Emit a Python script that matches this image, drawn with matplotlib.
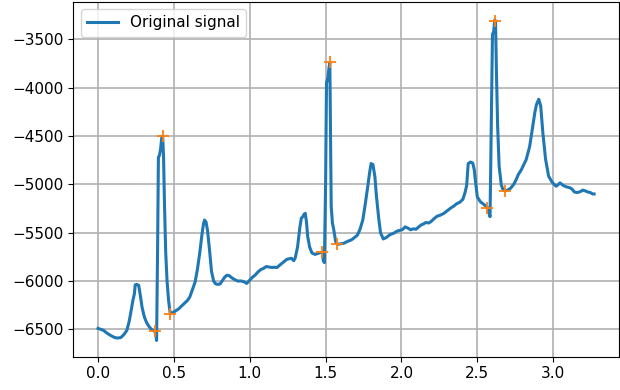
import numpy as np
import matplotlib
matplotlib.use("Agg")
import matplotlib.pyplot as plt

# signal trace (time, amplitude)
t = [0.000, 0.035, 0.060, 0.085, 0.110, 0.130, 0.150, 0.170, 0.190, 0.205,
     0.215, 0.230, 0.240, 0.245, 0.255, 0.268, 0.280, 0.290, 0.305, 0.320,
     0.338, 0.355, 0.370, 0.380, 0.386, 0.393, 0.398, 0.405, 0.412, 0.420,
     0.426, 0.432, 0.438, 0.446, 0.455, 0.465, 0.476, 0.490, 0.510, 0.530,
     0.550, 0.570, 0.590, 0.605, 0.620, 0.640, 0.655, 0.670, 0.685, 0.695,
     0.702, 0.712, 0.722, 0.735, 0.748, 0.762, 0.775, 0.790, 0.805, 0.818,
     0.835, 0.850, 0.865, 0.880, 0.900, 0.920, 0.945, 0.965, 0.980, 0.995,
     1.015, 1.035, 1.055, 1.075, 1.090, 1.110, 1.125, 1.145, 1.165, 1.180,
     1.195, 1.210, 1.230, 1.245, 1.260, 1.275, 1.290, 1.300, 1.315, 1.330,
     1.340, 1.350, 1.358, 1.366, 1.374, 1.382, 1.395, 1.410, 1.430, 1.450,
     1.470, 1.478, 1.485, 1.492, 1.500, 1.506, 1.515, 1.522, 1.528, 1.537,
     1.545, 1.554, 1.566, 1.577, 1.600, 1.620, 1.645, 1.670, 1.695, 1.710,
     1.728, 1.745, 1.760, 1.775, 1.790, 1.800, 1.812, 1.825, 1.835, 1.850,
     1.862, 1.880, 1.900, 1.925, 1.950, 1.970, 1.990, 2.005, 2.025, 2.045,
     2.060, 2.080, 2.095, 2.115, 2.130, 2.145, 2.160, 2.180, 2.195, 2.215,
     2.235, 2.255, 2.280, 2.300, 2.325, 2.345, 2.365, 2.385, 2.405, 2.420,
     2.430, 2.440, 2.455, 2.470, 2.480, 2.487, 2.500, 2.520, 2.545, 2.567,
     2.576, 2.584, 2.593, 2.600, 2.608, 2.615, 2.620, 2.627, 2.634, 2.644,
     2.658, 2.670, 2.682, 2.700, 2.720, 2.740, 2.755, 2.770, 2.790, 2.805,
     2.822, 2.845, 2.865, 2.880, 2.890, 2.905, 2.918, 2.932, 2.950, 2.970,
     2.990, 3.000, 3.020, 3.035, 3.045, 3.065, 3.085, 3.110, 3.125, 3.140,
     3.160, 3.180, 3.195, 3.215, 3.230, 3.245, 3.260, 3.270]
signal = [-6490, -6510, -6540, -6565, -6585, -6590, -6585, -6555, -6510, -6420,
          -6335, -6200, -6130, -6040, -6035, -6045, -6160, -6270, -6370, -6430,
          -6475, -6505, -6515, -6540, -6615, -5600, -4720, -4700, -4640, -4520,
          -4500, -4720, -5200, -5700, -6000, -6200, -6340, -6330, -6310, -6290,
          -6260, -6230, -6200, -6165, -6100, -6010, -5880, -5715, -5520, -5410,
          -5370, -5390, -5480, -5680, -5900, -6000, -6030, -6035, -6030, -6000,
          -5960, -5940, -5945, -5965, -5985, -6000, -6000, -6010, -6025, -6000,
          -5965, -5940, -5905, -5880, -5870, -5850, -5855, -5860, -5858, -5860,
          -5840, -5820, -5795, -5775, -5770, -5765, -5790, -5760, -5650, -5450,
          -5350, -5335, -5310, -5300, -5390, -5540, -5650, -5710, -5725, -5715,
          -5705, -5700, -5790, -5810, -5000, -3950, -3900, -3800, -3740, -5230,
          -5400, -5470, -5590, -5621, -5615, -5610, -5590, -5575, -5545, -5525,
          -5460, -5370, -5220, -5055, -4880, -4785, -4795, -4920, -5120, -5350,
          -5500, -5565, -5550, -5520, -5505, -5485, -5475, -5470, -5440, -5455,
          -5470, -5460, -5465, -5440, -5420, -5410, -5395, -5400, -5385, -5355,
          -5330, -5320, -5300, -5275, -5245, -5225, -5200, -5185, -5155, -5080,
          -5010, -4785, -4770, -4780, -4850, -4955, -5130, -5180, -5210, -5241,
          -5290, -5335, -4300, -3450, -3420, -3300, -3310, -3900, -4400, -4815,
          -5005, -5060, -5069, -5060, -5040, -5000, -4955, -4900, -4850, -4800,
          -4745, -4610, -4400, -4250, -4175, -4120, -4190, -4465, -4740, -4915,
          -4970, -4990, -5020, -5000, -4985, -5010, -5025, -5035, -5050, -5080,
          -5085, -5075, -5060, -5070, -5080, -5085, -5100, -5100]

# detected points (orange crosses)
peak_t = [0.376, 0.427, 0.476, 1.478, 1.528, 1.577, 2.567, 2.616, 2.682]
peak_v = [-6518, -4500, -6342, -5700, -3738, -5621, -5241, -3307, -5069]

plt.rcParams["font.size"] = 11

fig = plt.figure(figsize=(6.2, 3.9), dpi=100)
ax = fig.add_axes([73.3 / 620, 1 - 356.7 / 390, (619.0 - 73.3) / 620, (356.7 - 1.7) / 390])
ax.plot(t, signal, color="tab:blue", lw=2.2, label="Original signal")
ax.plot(peak_t, peak_v, "+", color="tab:orange", ms=9, mew=1.3)
ax.set_xlim(-0.163, 3.434)
ax.set_ylim(-6783, -3111)
ax.set_yticks(np.arange(-6500, -3499, 500))
ax.set_xticks(np.arange(0, 3.01, 0.5))
ax.grid(True, lw=1.2)
ax.legend(loc="upper left")

fig.savefig("out.png")
